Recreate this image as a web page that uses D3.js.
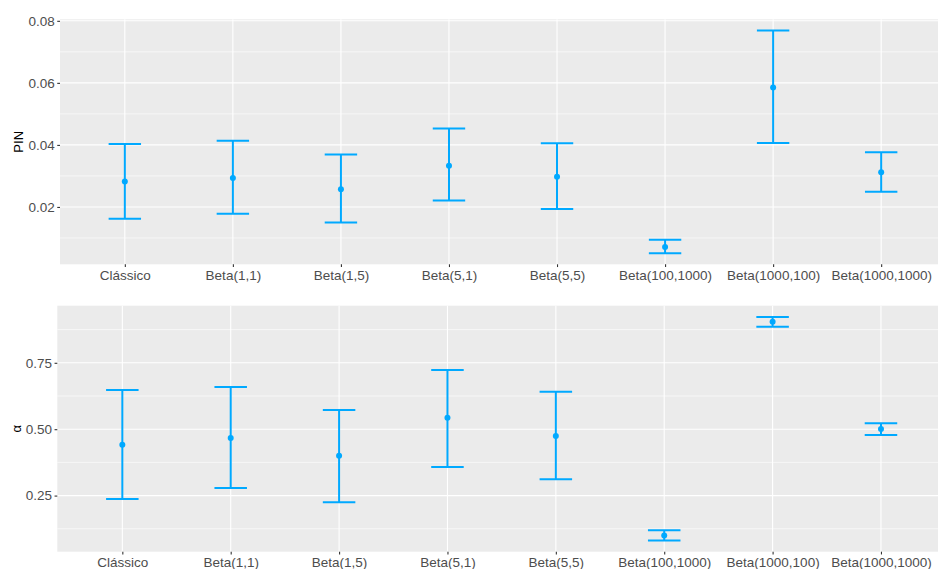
<!DOCTYPE html>
<html>
<head>
<meta charset="utf-8">
<script src="https://cdn.jsdelivr.net/npm/d3@7"></script>
<style>
body { margin: 0; background: #fff; }
svg { display: block; font-family: "Liberation Sans", Arial, sans-serif; }
</style>
</head>
<body>
<div id="chart"></div>
<script>
// data
var categories = ['Clássico','Beta(1,1)','Beta(1,5)','Beta(5,1)','Beta(5,5)','Beta(100,1000)','Beta(1000,100)','Beta(1000,1000)'];

var pinMean  = [0.0282, 0.0293, 0.0257, 0.0333, 0.0297, 0.0071, 0.0585, 0.0312];
var pinLower = [0.0162, 0.0178, 0.0150, 0.0221, 0.0193, 0.0051, 0.0406, 0.0249];
var pinUpper = [0.0403, 0.0413, 0.0369, 0.0453, 0.0405, 0.0094, 0.0769, 0.0376];
var pinTicks = [0.02, 0.04, 0.06, 0.08];
var pinMinor = [0.01, 0.03, 0.05, 0.07];

var alphaMean  = [0.4417, 0.4669, 0.4004, 0.5432, 0.4744, 0.0996, 0.9041, 0.5008];
var alphaLower = [0.2376, 0.2789, 0.2252, 0.3579, 0.3117, 0.0808, 0.8853, 0.4782];
var alphaUpper = [0.6474, 0.6586, 0.5722, 0.7226, 0.6410, 0.1199, 0.9229, 0.5222];
var alphaTicks = [0.25, 0.50, 0.75];
var alphaMinor = [0.125, 0.375, 0.625, 0.875];

//config values:
var width = 938, height = 569;
var bar_color = '#00A9FF';
var cap_frac = 0.3;

var svg = d3.select('#chart').append('svg')
  .attr('width', width)
  .attr('height', height);

function drawPanel(p) {
  var rows = categories.map(function(c, i){
    return {cat: c, mean: p.mean[i], lo: p.lower[i], hi: p.upper[i]};
  });

  var lo = d3.min(p.lower), hi = d3.max(p.upper);
  var pad = (hi - lo) * 0.05;

  var x = d3.scalePoint().domain(categories).range([p.left, p.right]).padding(0.6);
  var y = d3.scaleLinear().domain([lo - pad, hi + pad]).range([p.bottom, p.top]);
  var capW = x.step() * cap_frac;

  var g = svg.append('g');

  g.append('rect')
    .attr('x', p.left).attr('y', p.top)
    .attr('width', p.right - p.left).attr('height', p.bottom - p.top)
    .attr('fill', '#EBEBEB');

  // minor then major grid
  g.selectAll('.minor').data(p.minor).enter().append('line')
    .attr('x1', p.left).attr('x2', p.right)
    .attr('y1', function(d){return y(d);}).attr('y2', function(d){return y(d);})
    .attr('stroke', '#fff').attr('stroke-width', 0.6);
  g.selectAll('.hmajor').data(p.ticks).enter().append('line')
    .attr('x1', p.left).attr('x2', p.right)
    .attr('y1', function(d){return y(d);}).attr('y2', function(d){return y(d);})
    .attr('stroke', '#fff').attr('stroke-width', 1.1);
  g.selectAll('.vmajor').data(categories).enter().append('line')
    .attr('x1', function(d){return x(d);}).attr('x2', function(d){return x(d);})
    .attr('y1', p.top).attr('y2', p.bottom)
    .attr('stroke', '#fff').attr('stroke-width', 1.1);

  // error bars
  var bars = g.selectAll('.bar').data(rows).enter().append('g')
    .attr('stroke', bar_color).attr('stroke-width', 2).attr('fill', 'none');
  bars.append('line')
    .attr('x1', function(d){return x(d.cat);}).attr('x2', function(d){return x(d.cat);})
    .attr('y1', function(d){return y(d.lo);}).attr('y2', function(d){return y(d.hi);});
  bars.append('line')
    .attr('x1', function(d){return x(d.cat) - capW/2;}).attr('x2', function(d){return x(d.cat) + capW/2;})
    .attr('y1', function(d){return y(d.hi);}).attr('y2', function(d){return y(d.hi);});
  bars.append('line')
    .attr('x1', function(d){return x(d.cat) - capW/2;}).attr('x2', function(d){return x(d.cat) + capW/2;})
    .attr('y1', function(d){return y(d.lo);}).attr('y2', function(d){return y(d.lo);});
  g.selectAll('.pt').data(rows).enter().append('circle')
    .attr('cx', function(d){return x(d.cat);})
    .attr('cy', function(d){return y(d.mean);})
    .attr('r', 3)
    .attr('fill', bar_color);

  // axes
  var ax = g.append('g')
    .attr('transform', 'translate(0,' + p.bottom + ')')
    .call(d3.axisBottom(x).tickSize(2.75).tickPadding(3));
  var ay = g.append('g')
    .attr('transform', 'translate(' + p.left + ',0)')
    .call(d3.axisLeft(y).tickValues(p.ticks).tickFormat(d3.format('.2f')).tickSize(2.75).tickPadding(2.5));
  [ax, ay].forEach(function(a){
    a.select('.domain').remove();
    a.selectAll('line').attr('stroke', '#333333').attr('stroke-width', 1.1);
    a.selectAll('text').attr('fill', '#4D4D4D').style('font-size', '13.5px')
      .style('font-family', '"Liberation Sans", Arial, sans-serif');
  });

  g.append('text')
    .attr('transform', 'translate(' + p.titleX + ',' + ((p.top + p.bottom) / 2) + ') rotate(-90)')
    .attr('text-anchor', 'middle')
    .attr('fill', '#000')
    .style('font-size', '13px')
    .text(p.title);
}

drawPanel({
  mean: pinMean, lower: pinLower, upper: pinUpper,
  ticks: pinTicks, minor: pinMinor, title: 'PIN',
  left: 60, right: 946, top: 19.3, bottom: 264.3, titleX: 22.5
});

drawPanel({
  mean: alphaMean, lower: alphaLower, upper: alphaUpper,
  ticks: alphaTicks, minor: alphaMinor, title: 'α',
  left: 57.3, right: 946, top: 305.7, bottom: 551.7, titleX: 21
});
</script>
</body>
</html>
